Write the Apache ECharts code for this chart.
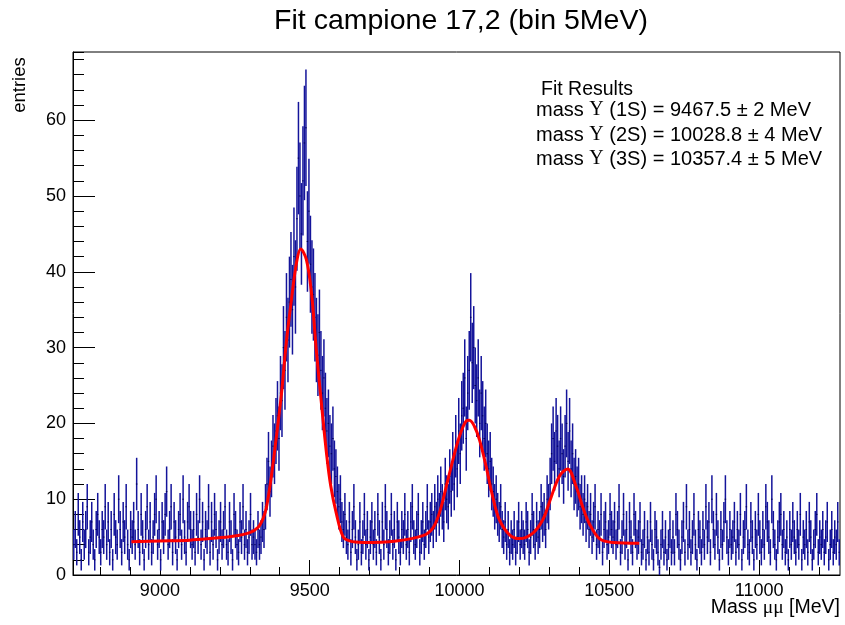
<!DOCTYPE html>
<html>
<head>
<meta charset="utf-8">
<script src="https://cdn.jsdelivr.net/npm/echarts@6/dist/echarts.min.js"></script>
<style>
html,body{margin:0;padding:0;background:#fff;}
#chart{width:845px;height:625px;}
</style>
</head>
<body>
<div id="chart"></div>
<script>
// ---- data ----
const titleText = 'Fit campione 17,2 (bin 5MeV)';
const binStart = 8710;
const binWidth = 5;
const counts = [
  4,6,3,8,5,2,7,4,6,9,3,5,7,4,2,6,8,5,3,6,
  5,9,4,7,3,6,2,8,5,4,10,6,3,7,5,9,4,2,6,5,
  7,4,12,6,3,8,5,2,6,9,4,7,3,5,8,10,4,6,2,7,
  5,8,11,4,6,9,3,7,5,2,6,8,4,10,5,3,7,9,6,4,
  6,3,8,5,10,4,7,2,6,5,9,3,7,4,8,6,2,5,7,4,
  6,9,4,3,7,5,2,8,6,4,3,7,5,9,4,6,3,5,8,4,
  5,4,3,6,4,5,7,6,9,12,15,11,14,17,16,19,21,18,24,23,
  30,27,34,31,36,39,35,42,38,47,55,50,45,52,57,59,44,48,41,38,
  37,34,31,29,32,27,24,26,22,19,20,17,16,18,14,13,11,9,10,7,
  6,8,5,4,7,3,6,9,5,2,4,7,3,5,8,4,6,2,5,7,
  4,6,3,8,5,2,7,4,9,6,3,5,8,4,6,2,7,5,3,6,
  5,8,4,6,3,7,9,5,4,6,8,3,5,7,4,6,9,5,7,8,
  6,9,7,10,8,11,9,7,12,10,9,13,11,15,12,17,14,19,16,21,
  22,26,18,24,27,34,28,30,25,23,26,20,24,21,18,20,16,14,15,12,
  11,9,10,8,7,9,6,5,7,4,6,3,5,4,6,3,5,7,4,6,
  5,4,7,6,3,5,8,6,4,7,5,6,9,7,8,6,10,9,12,16,
  18,15,19,17,14,18,16,13,17,20,15,19,14,16,12,13,11,12,9,10,
  8,10,7,9,6,8,5,7,9,4,6,5,8,3,6,7,4,5,8,6,
  5,7,4,6,9,3,5,8,4,6,2,7,5,3,8,6,4,5,7,3,
  4,6,2,5,3,7,4,2,6,5,3,1,4,6,3,5,2,4,6,3,
  5,3,8,6,4,2,5,7,3,9,4,6,3,5,8,4,2,6,5,3,
  6,4,9,5,7,3,10,6,4,8,5,2,6,4,7,10,5,3,6,4,
  5,7,3,6,4,8,2,5,6,9,4,3,7,5,2,6,4,8,5,3,
  6,4,9,7,5,3,10,6,4,2,5,7,8,4,6,3,5,2,6,4,
  7,5,3,6,4,8,2,5,4,6,3,7,5,2,4,6,8,3,5,4,
  6,3,5,7,2,4,6,3,5,4,7,3
];
// fit curve
const fitX = [8905,9000,9100,9167,9244,9300,9328,9345,9356,9372,9389,9406,9422,9439,9456,9470,9489,9506,9522,9539,9556,9570,9589,9611,9633,9678,9789,9878,9911,9933,9956,9978,10000,10022,10033,10050,10067,10089,10111,10133,10167,10200,10244,10278,10300,10333,10361,10389,10411,10433,10467,10511,10600];
const fitY = [4.4,4.5,4.6,4.8,5.1,5.6,6.3,7.5,9.0,13,18.3,24,30.7,36.3,41.2,43,41.6,37.2,29.7,22.7,16.1,11.8,8.1,5.1,4.5,4.3,4.5,5.2,6.2,8.2,11.7,15.2,18.3,20.3,20.4,19.6,17.8,14.3,10.3,7.3,5.3,4.8,5.5,7.3,9.6,13,14.0,11.7,9.0,6.8,4.8,4.3,4.2];
const xMajorTicks = [9000,9500,10000,10500,11000];
const xMinorTicks = [8800,8900,9000,9100,9200,9300,9400,9500,9600,9700,9800,9900,10000,10100,10200,10300,10400,10500,10600,10700,10800,10900,11000,11100,11200];
const yMajorTicks = [0,10,20,30,40,50,60];
const fitStates = ['Υ','Υ','Υ'];
const fitLevels = ['(1S)','(2S)','(3S)'];
const fitMasses = ['9467.5','10028.8','10357.4'];
const fitErrors = ['2','4','5'];

// ---- chart ----
const xMin = 8710, xMax = 11270, yMin = 0, yMax = 69;
const histData = counts.map((v, i) => [binStart + binWidth * (i + 0.5), v]);
const fitData = fitX.map((x, i) => [x, fitY[i]]);

const chart = echarts.init(document.getElementById('chart'), null, {renderer: 'canvas'});
const FONT = '"Liberation Sans", Arial, Helvetica, sans-serif';
const SERIF = '"Liberation Serif", "DejaVu Serif", serif';
const gridRect = {left: 73, right: 5, top: 52, bottom: 50};

const legendGraphics = [{
  type: 'text', x: 541, y: 90,
  style: {text: 'Fit Results', font: '19.5px ' + FONT, fill: '#000', verticalAlign: 'middle', align: 'left'}
}];
const lineYs = [110, 135, 159];
for (let i = 0; i < 3; i++) {
  legendGraphics.push({
    type: 'text', x: 536, y: lineYs[i],
    style: {
      text: '{n|mass }{u|' + fitStates[i] + '}{n| ' + fitLevels[i] + ' = ' + fitMasses[i] + ' ± ' + fitErrors[i] + ' MeV}',
      verticalAlign: 'middle', align: 'left',
      rich: {
        n: {fontFamily: FONT, fontSize: 20, fill: '#000'},
        u: {fontFamily: SERIF, fontSize: 20, fill: '#000'}
      }
    }
  });
}

const option = {
  animation: false,
  backgroundColor: '#fff',
  grid: [
    Object.assign({show: true, borderColor: '#000', borderWidth: 1, backgroundColor: 'transparent'}, gridRect),
    Object.assign({show: false}, gridRect)
  ],
  xAxis: [
    {
      type: 'value', gridIndex: 0, min: xMin, max: xMax, position: 'bottom',
      axisLine: {show: true, onZero: false, lineStyle: {color: '#000', width: 1}},
      axisTick: {show: true, inside: true, length: 15, customValues: xMajorTicks, lineStyle: {color: '#000', width: 1}},
      axisLabel: {show: true, customValues: xMajorTicks, margin: 7, color: '#000', fontSize: 18, fontFamily: FONT,
        formatter: function (v) { return String(v); }},
      splitLine: {show: false}
    },
    {
      type: 'value', gridIndex: 1, min: xMin, max: xMax, position: 'bottom',
      axisLine: {show: false},
      axisTick: {show: true, inside: true, length: 8, customValues: xMinorTicks, lineStyle: {color: '#000', width: 1}},
      axisLabel: {show: false},
      splitLine: {show: false}
    }
  ],
  yAxis: [
    {
      type: 'value', gridIndex: 0, min: yMin, max: yMax, interval: 10, position: 'left',
      axisLine: {show: true, onZero: false, lineStyle: {color: '#000', width: 1}},
      axisTick: {show: true, inside: true, length: 22, customValues: yMajorTicks, lineStyle: {color: '#000', width: 1}},
      axisLabel: {show: true, customValues: yMajorTicks, margin: 7, color: '#000', fontSize: 18, fontFamily: FONT,
        formatter: function (v) { return String(v); }},
      splitLine: {show: false}
    },
    {
      type: 'value', gridIndex: 1, min: yMin, max: yMax, interval: 2, position: 'left',
      axisLine: {show: false},
      axisTick: {show: true, inside: true, length: 11, lineStyle: {color: '#000', width: 1}},
      axisLabel: {show: false},
      splitLine: {show: false}
    }
  ],
  graphic: [
    {
      type: 'text', x: 461, y: 21,
      style: {text: titleText, font: '28.5px ' + FONT, fill: '#000', align: 'center', verticalAlign: 'middle'}
    },
    {
      type: 'text', x: 20, y: 85, rotation: Math.PI / 2,
      style: {text: 'entries', font: '18.5px ' + FONT, fill: '#000', align: 'center', verticalAlign: 'middle'}
    },
    {
      type: 'text', x: 840, y: 608,
      style: {
        text: '{n|Mass }{g|μμ}{n| [MeV]}', align: 'right', verticalAlign: 'middle',
        rich: {
          n: {fontFamily: FONT, fontSize: 19.5, fill: '#000'},
          g: {fontFamily: SERIF, fontSize: 19.5, fill: '#000'}
        }
      }
    }
  ].concat(legendGraphics),
  series: [
    {
      type: 'custom', xAxisIndex: 0, yAxisIndex: 0, clip: true,
      data: histData,
      renderItem: function (params, api) {
        const x = api.value(0), v = api.value(1);
        const e = Math.sqrt(v);
        const pT = api.coord([x, v + e]);
        const pB = api.coord([x, Math.max(v - e, 0)]);
        const pL = api.coord([x - binWidth / 2, v]);
        const pR = api.coord([x + binWidth / 2, v]);
        return {
          type: 'group',
          children: [
            {type: 'line', shape: {x1: pT[0], y1: pT[1], x2: pB[0], y2: pB[1]}, style: {stroke: '#14149a', lineWidth: 1.5}},
            {type: 'line', shape: {x1: pL[0], y1: pL[1], x2: pR[0], y2: pR[1]}, style: {stroke: '#000050', lineWidth: 1}}
          ]
        };
      },
      z: 2
    },
    {
      type: 'line', xAxisIndex: 0, yAxisIndex: 0,
      data: fitData, smooth: 0.35, showSymbol: false, symbol: 'none',
      lineStyle: {color: '#ff0000', width: 3},
      z: 3
    }
  ]
};
chart.setOption(option);
</script>
</body>
</html>
